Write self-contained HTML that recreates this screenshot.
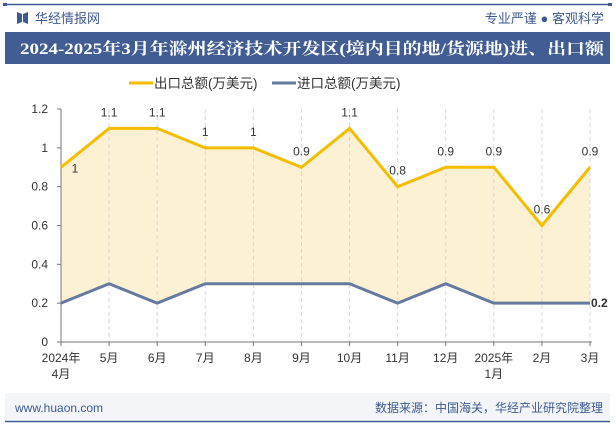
<!DOCTYPE html>
<html><head><meta charset="utf-8"><style>
body{margin:0;width:615px;height:427px;overflow:hidden;background:#fff;font-family:"Liberation Sans","Noto Sans CJK SC",sans-serif;}
</style></head><body>
<svg width="615" height="427" xmlns="http://www.w3.org/2000/svg" style="position:absolute;left:0;top:0">
<g>
<line x1="5" y1="4.5" x2="610" y2="4.5" stroke="#3f5a8f" stroke-width="1.5"/>
<rect x="3" y="3" width="4" height="3" fill="#3f5a8f"/><rect x="608" y="3" width="4" height="3" fill="#3f5a8f"/>
<path d="M17 12 L22 14 L22 22 L17 24 Z M28 12 L23 14 L23 22 L28 24 Z" fill="#3f5a8f"/>
<text x="35" y="23" font-size="13" fill="#3f5a8f">华经情报网</text>
<text x="604" y="23" font-size="13" fill="#3f5a8f" text-anchor="end">专业严谨 ● 客观科学</text>
<rect x="5" y="32" width="605" height="32" fill="#425d93"/>
<text x="20" y="54" font-size="16" font-weight="bold" fill="#fff" textLength="584" lengthAdjust="spacingAndGlyphs" font-family="'Liberation Serif','Noto Serif CJK SC',serif">2024-2025年3月年滁州经济技术开发区(境内目的地/货源地)进、出口额</text>
</g>
<g>
<line x1="129" y1="83" x2="153" y2="83" stroke="#f5bd00" stroke-width="3"/>
<text x="154" y="88" font-size="13.5" fill="#333">出口总额(万美元)</text>
<line x1="272" y1="83" x2="296" y2="83" stroke="#667aa0" stroke-width="3"/>
<text x="297" y="88" font-size="13.5" fill="#333">进口总额(万美元)</text>
</g>
<g id="chart"></g>
<g>
<rect x="5" y="393" width="605" height="27" fill="#f3f5f9"/>
<text x="15" y="412" font-size="12" fill="#3f5a8f">www.huaon.com</text>
<text x="603" y="412" font-size="12" fill="#3f5a8f" text-anchor="end">数据来源：中国海关，华经产业研究院整理</text>
<line x1="5" y1="421.5" x2="610" y2="421.5" stroke="#3f5a8f" stroke-width="1.5"/>
</g>
</svg>
<script>
const categories=["2024年\n4月","5月","6月","7月","8月","9月","10月","11月","12月","2025年\n1月","2月","3月"];
const exportValues=[0.9,1.1,1.1,1,1,0.9,1.1,0.8,0.9,0.9,0.6,0.9];
const exportLabels=["1","1.1","1.1","1","1","0.9","1.1","0.8","0.9","0.9","0.6","0.9"];
const importValues=[0.2,0.3,0.2,0.3,0.3,0.3,0.3,0.2,0.3,0.2,0.2,0.2];
const yTicks=[0,0.2,0.4,0.6,0.8,1,1.2];
const NS="http://www.w3.org/2000/svg";
const g=document.getElementById('chart');
const X0=61,X1=590,Y0=342,Y1=109,YMAX=1.2;
const x=i=>X0+i*(X1-X0)/(categories.length-1);
const y=v=>Y0-v/YMAX*(Y0-Y1);
function mk(t,a){const e=document.createElementNS(NS,t);for(const k in a)e.setAttribute(k,a[k]);g.appendChild(e);return e;}
let d=exportValues.map((v,i)=>(i?'L':'M')+x(i)+' '+y(v)).join(' ');
for(let i=importValues.length-1;i>=0;i--)d+=' L'+x(i)+' '+y(importValues[i]);
let area=mk('path',{d:d+' Z',fill:'#fdf1d3'});


categories.forEach((c,i)=>{if(i===0)return;let l=mk('line',{x1:x(i),x2:x(i),y1:Y1,y2:Y0,stroke:'#d8d8d8','stroke-dasharray':'4,3'});

});
let ya=mk('line',{x1:X0,x2:X0,y1:Y1,y2:Y0,stroke:'#777'});


let xa=mk('line',{x1:X0,x2:X1+2,y1:Y0,y2:Y0,stroke:'#777'});


yTicks.forEach(v=>{mk('line',{x1:X0-4,x2:X0,y1:y(v),y2:y(v),stroke:'#777'});
let t=mk('text',{x:X0-13,y:y(v)+4,'font-size':12,'text-anchor':'end',fill:'#333'});t.textContent=v;

});
categories.forEach((c,i)=>{mk('line',{x1:x(i),x2:x(i),y1:Y0,y2:Y0+4,stroke:'#777'});
c.split('\n').forEach((s,j)=>{let t=mk('text',{x:x(i),y:Y0+20+j*16,'font-size':12,'text-anchor':'middle',fill:'#333'});t.textContent=s;

});});
let le=mk('polyline',{points:exportValues.map((v,i)=>x(i)+','+y(v)).join(' '),fill:'none',stroke:'#f5bd00','stroke-width':3});


let li=mk('polyline',{points:importValues.map((v,i)=>x(i)+','+y(v)).join(' '),fill:'none',stroke:'#667aa0','stroke-width':3});


exportValues.forEach((v,i)=>{let t=mk('text',{x:i===0?x(i)+14:x(i),y:i===0?y(v)+5:y(v)-12,'font-size':12,'text-anchor':'middle',fill:'#333'});t.textContent=exportLabels[i];

});
const li2=importValues.length-1;
let tl=mk('text',{x:x(li2)+1,y:y(importValues[li2])+4,'font-size':12,'font-weight':'bold',fill:'#333'});tl.textContent=importValues[li2];


</script>
</body></html>
